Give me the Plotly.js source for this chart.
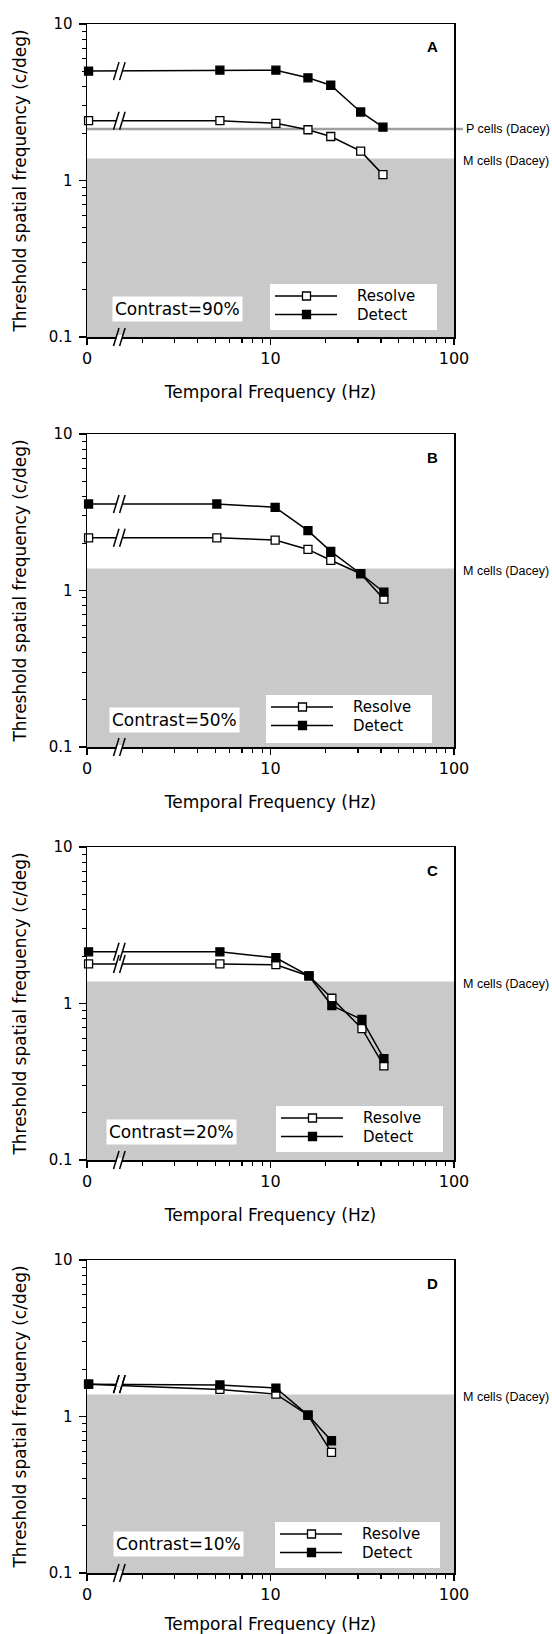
<!DOCTYPE html>
<html><head><meta charset="utf-8">
<script src="https://cdn.plot.ly/plotly-3.0.1.min.js"></script>
<style>html,body{margin:0;padding:0;background:#fff;} #chart{width:552px;height:1634px;}</style>
</head><body><div id="chart"></div>
<script>
// ---------- data ----------
const panelLetters = ['A', 'B', 'C', 'D'];
const contrastLabels = ['Contrast=90%', 'Contrast=50%', 'Contrast=20%', 'Contrast=10%'];
const seriesNames = ['Resolve', 'Detect'];

const freqA = [0, 5.3, 10.7, 16, 21.3, 31, 41];
const freqB = [0, 5.1, 10.6, 16, 21.3, 31, 41.5];
const freqC = [0, 5.3, 10.7, 16.2, 21.6, 31.5, 41.5];
const freqD = [0, 5.3, 10.7, 16, 21.5];

const resolveA = [2.41, 2.41, 2.32, 2.11, 1.91, 1.54, 1.09];
const detectA  = [5.0, 5.07, 5.07, 4.53, 4.06, 2.74, 2.19];
const resolveB = [2.17, 2.17, 2.10, 1.83, 1.56, 1.28, 0.88];
const detectB  = [3.57, 3.57, 3.40, 2.41, 1.78, 1.28, 0.975];
const resolveC = [1.79, 1.79, 1.77, 1.50, 1.08, 0.69, 0.40];
const detectC  = [2.14, 2.14, 1.96, 1.50, 0.97, 0.79, 0.444];
const resolveD = [1.61, 1.49, 1.39, 1.02, 0.59];
const detectD  = [1.61, 1.59, 1.52, 1.02, 0.70];

const pCellsLimit = 2.13;   // shown in panel A only
const mCellsLimit = 1.38;   // shown in every panel
const pCellsText = 'P cells (Dacey)';
const mCellsText = 'M cells (Dacey)';

const xTickVals = [1, 10, 100];
const xTickText = ['0', '10', '100'];
const xMinorVals = [2, 3, 4, 5, 6, 7, 8, 9, 20, 30, 40, 50, 60, 70, 80, 90];
const yTickVals = [0.1, 1, 10];
const yTickText = ['0.1', '1', '10'];
const yMinorVals = [0.2, 0.3, 0.4, 0.5, 0.6, 0.7, 0.8, 0.9, 2, 3, 4, 5, 6, 7, 8, 9];

const zeroHzAt = 1.02;   // 0 Hz drawn at the left end of the broken log axis
const axisBreakAt = 1.5; // where the "//" break marks sit

// ---------- layout geometry ----------
const W = 552, H = 1634;
const plotLeft = 87, plotRight = 454, panelH = 313;
const panelTops = [24, 434, 847, 1260];
const legendBoxes = [ // left, top, right, bottom in px relative to the panel's top-left
  [183, 260, 350, 306], [179, 261, 345, 309], [189, 259, 356, 305], [188, 262, 353, 308]
];
const contrastPos = [[25, 28], [22, 27], [19, 28.5], [26, 29]]; // px from left / from bottom

const freqs = [freqA, freqB, freqC, freqD];
const resolves = [resolveA, resolveB, resolveC, resolveD];
const detects = [detectA, detectB, detectC, detectD];

const FONT = 'DejaVu Sans';
const plotW = plotRight - plotLeft;
const yDom = v => (Math.log10(v) + 1) / 2;   // log axis 0.1..10 -> domain fraction
const xDom = v => Math.log10(v) / 2;         // log axis 1..100 -> domain fraction

const data = [];
const layout = {
  width: W, height: H, margin: {l: 0, r: 0, t: 0, b: 0},
  paper_bgcolor: '#fff', plot_bgcolor: '#fff', showlegend: false,
  shapes: [], annotations: [], font: {family: FONT, color: '#000'}
};

for (let i = 0; i < 4; i++) {
  const sfx = i === 0 ? '' : String(i + 1);
  const xa = 'x' + sfx, ya = 'y' + sfx;
  const xd = xa + ' domain', yd = ya + ' domain';
  const top = panelTops[i];
  const xs = freqs[i].map(f => f === 0 ? zeroHzAt : f);

  layout['xaxis' + sfx] = {
    type: 'log', range: [0, 2], domain: [plotLeft / W, plotRight / W], anchor: ya,
    tickmode: 'array', tickvals: xTickVals, ticktext: xTickText,
    ticks: 'outside', ticklen: 6, tickwidth: 1.5, tickcolor: '#000',
    minor: {tickmode: 'array', tickvals: xMinorVals, ticks: 'outside', ticklen: 4, tickwidth: 1.2, tickcolor: '#000', showgrid: false},
    showline: true, linewidth: 1.5, linecolor: '#000', mirror: true,
    showgrid: false, zeroline: false, fixedrange: true,
    tickfont: {family: FONT, size: 16, color: '#000'},
    title: {text: 'Temporal Frequency (Hz)\u00a0\u00a0\u00a0\u00a0', font: {family: FONT, size: 17, color: '#000'}, standoff: 19}
  };
  layout['yaxis' + sfx] = {
    type: 'log', range: [-1, 1], domain: [1 - (top + panelH) / H, 1 - top / H], anchor: xa,
    tickmode: 'array', tickvals: yTickVals, ticktext: yTickText,
    ticks: 'outside', ticklen: 7, tickwidth: 1.5, tickcolor: '#000',
    minor: {tickmode: 'array', tickvals: yMinorVals, ticks: 'outside', ticklen: 4, tickwidth: 1.2, tickcolor: '#000', showgrid: false},
    showline: true, linewidth: 1.5, linecolor: '#000', mirror: true,
    showgrid: false, zeroline: false, fixedrange: true, ticklabelstandoff: 3,
    tickfont: {family: FONT, size: 15, color: '#000'},
    title: {text: 'Threshold spatial frequency (c/deg)', font: {family: FONT, size: 17, color: '#000'}, standoff: 17}
  };

  // M-cell region and P-cell line
  layout.shapes.push({type: 'rect', xref: xd, yref: yd, x0: 0, x1: 1, y0: 0, y1: yDom(mCellsLimit),
    fillcolor: '#c9c9c9', line: {width: 0}, layer: 'below'});
  layout.annotations.push({xref: xd, yref: yd, x: (461 - plotLeft) / plotW, y: yDom(mCellsLimit) - 2 / panelH,
    xanchor: 'left', yanchor: 'middle', showarrow: false, text: mCellsText,
    font: {family: 'Liberation Sans', size: 12.5, color: '#000'}});
  if (i === 0) {
    layout.shapes.push({type: 'line', xref: xd, yref: yd, x0: 0, x1: (463 - plotLeft) / plotW,
      y0: yDom(pCellsLimit), y1: yDom(pCellsLimit), line: {color: '#a0a0a0', width: 2.5}, layer: 'below'});
    layout.annotations.push({xref: xd, yref: yd, x: (464 - plotLeft) / plotW, y: yDom(pCellsLimit),
      xanchor: 'left', yanchor: 'middle', showarrow: false, text: pCellsText,
      font: {family: 'Liberation Sans', size: 12.5, color: '#000'}});
  }

  // series
  data.push({x: xs, y: resolves[i], xaxis: xa, yaxis: ya, type: 'scatter', mode: 'lines+markers', name: seriesNames[0],
    cliponaxis: false, line: {color: '#000', width: 1.5},
    marker: {symbol: 'square', size: 8, color: '#fff', line: {color: '#000', width: 1.3}}});
  data.push({x: xs, y: detects[i], xaxis: xa, yaxis: ya, type: 'scatter', mode: 'lines+markers', name: seriesNames[1],
    cliponaxis: false, line: {color: '#000', width: 1.5},
    marker: {symbol: 'square', size: 8, color: '#000', line: {color: '#000', width: 1.3}}});

  // axis-break marks on both lines and on the x axis
  const breakYs = [yDom(resolves[i][0]), yDom(detects[i][0]), 0];
  breakYs.forEach(by => {
    const base = {xref: xd, yref: yd, xsizemode: 'pixel', ysizemode: 'pixel', xanchor: xDom(axisBreakAt), yanchor: by, layer: 'above'};
    layout.shapes.push(Object.assign({type: 'line', x0: -2.8, x1: 2.8, y0: 0, y1: 0, line: {color: '#fff', width: 4}}, base));
    layout.shapes.push(Object.assign({type: 'line', x0: -5.8, x1: -0.3, y0: -9, y1: 9, line: {color: '#000', width: 1.5}}, base));
    layout.shapes.push(Object.assign({type: 'line', x0: 0.3, x1: 5.8, y0: -9, y1: 9, line: {color: '#000', width: 1.5}}, base));
  });

  // panel letter
  layout.annotations.push({xref: xd, yref: yd, x: (432 - plotLeft) / plotW, y: 1 - 23 / panelH,
    xanchor: 'center', yanchor: 'middle', showarrow: false, text: '<b>' + panelLetters[i] + '</b>',
    font: {family: 'Liberation Sans', size: 15, color: '#000'}});

  // contrast label
  layout.annotations.push({xref: xd, yref: yd, x: contrastPos[i][0] / plotW, y: contrastPos[i][1] / panelH,
    xanchor: 'left', yanchor: 'middle', showarrow: false, text: contrastLabels[i],
    bgcolor: '#fff', borderpad: 2, font: {family: FONT, size: 17, color: '#000'}});

  // legend box
  const lb = legendBoxes[i];
  const bx0 = lb[0] / plotW, bx1 = lb[2] / plotW, by1 = 1 - lb[1] / panelH, by0 = 1 - lb[3] / panelH;
  layout.shapes.push({type: 'rect', xref: xd, yref: yd, x0: bx0, x1: bx1, y0: by0, y1: by1,
    fillcolor: '#fff', line: {width: 0}, layer: 'above'});
  const rows = [12, 30.5];
  rows.forEach((ry, k) => {
    const base = {xref: xd, yref: yd, xsizemode: 'pixel', ysizemode: 'pixel', xanchor: bx0, yanchor: by1 - ry / panelH, layer: 'above'};
    layout.shapes.push(Object.assign({type: 'line', x0: 5, x1: 67, y0: 0, y1: 0, line: {color: '#000', width: 1.5}}, base));
    layout.shapes.push(Object.assign({type: 'rect', x0: 32.5, x1: 40.5, y0: -4, y1: 4,
      fillcolor: k === 0 ? '#fff' : '#000', line: {color: '#000', width: 1.3}}, base));
    layout.annotations.push({xref: xd, yref: yd, x: bx0 + 86 / plotW, y: by1 - ry / panelH,
      xanchor: 'left', yanchor: 'middle', showarrow: false, text: seriesNames[k],
      borderpad: 0, font: {family: FONT, size: 15, color: '#000'}});
  });
}

Plotly.newPlot('chart', data, layout, {staticPlot: true, displayModeBar: false});
</script>
</body></html>
